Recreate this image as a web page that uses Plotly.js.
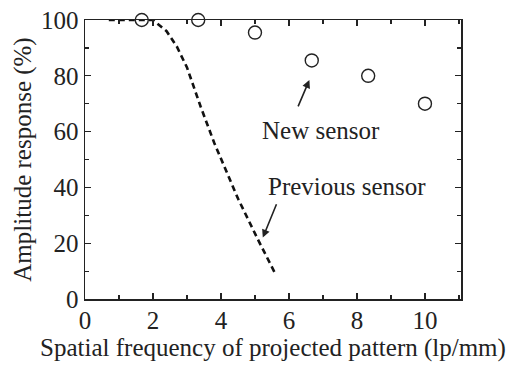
<!DOCTYPE html>
<html>
<head>
<meta charset="utf-8">
<script src="https://cdn.plot.ly/plotly-3.0.1.min.js"></script>
<style>html,body{margin:0;padding:0;background:#fff;}#chart{width:513px;height:368px;}</style>
</head>
<body>
<div id="chart"></div>
<script>
// New sensor measurements
var newX = [1.67, 3.33, 5.0, 6.67, 8.33, 10.0];
var newY = [100, 100, 95.5, 85.5, 80, 70];
// Previous sensor curve
var prevX = [0.7, 2.0, 2.4, 2.7, 3.0, 3.4, 3.8, 4.5, 5.1, 5.6];
var prevY = [100, 100, 96, 90.5, 83, 69, 56, 36, 21, 9];
var xTicks = [0, 2, 4, 6, 8, 10];
var yTicks = [0, 20, 40, 60, 80, 100];
var xTitle = "Spatial frequency of projected pattern (lp/mm)";
var yTitle = "Amplitude response (%)";
var labelNew = "New sensor";
var labelPrev = "Previous sensor";

var font = "Liberation Serif, Times New Roman, serif";

var traces = [
  {x: prevX, y: prevY, mode: "lines", type: "scatter",
   line: {color: "#111", width: 2.6, dash: "6px,4px"}, cliponaxis: false, showlegend: false},
  {x: newX, y: newY, mode: "markers", type: "scatter",
   marker: {symbol: "circle-open", size: 13, color: "#222", line: {width: 1.4, color: "#222"}},
   cliponaxis: false, showlegend: false}
];

var axisCommon = {
  showgrid: false, zeroline: false, showline: true, linecolor: "#222", linewidth: 1.5,
  mirror: "ticks", ticks: "inside", ticklen: 6, tickwidth: 1.3, tickcolor: "#222",
  tickfont: {family: font, size: 25, color: "#222"},
  minor: {ticks: "inside", ticklen: 4, tickwidth: 1.2, tickcolor: "#222", showgrid: false}
};

var layout = {
  width: 513, height: 368,
  margin: {l: 85, r: 52, t: 20, b: 69},
  paper_bgcolor: "#fff", plot_bgcolor: "#fff",
  font: {family: font, color: "#222"},
  xaxis: Object.assign({}, axisCommon, {
    range: [0, 11.06], tickvals: xTicks, ticktext: xTicks.map(String),
    minor: Object.assign({}, axisCommon.minor, {dtick: 1, tick0: 0}),
    ticklabelstandoff: -2,
    title: {text: xTitle, font: {family: font, size: 25, color: "#222"}, standoff: 2}
  }),
  yaxis: Object.assign({}, axisCommon, {
    range: [0, 100], tickvals: yTicks, ticktext: yTicks.map(String),
    minor: Object.assign({}, axisCommon.minor, {dtick: 10, tick0: 0}),
    title: {text: yTitle, font: {family: font, size: 25, color: "#222"}, standoff: 2}
  }),
  annotations: [
    {x: 6.6, y: 78.5, xref: "x", yref: "y", ax: 6.25, ay: 68.5, axref: "x", ayref: "y",
     showarrow: true, arrowhead: 2, arrowsize: 1, arrowwidth: 1.6, arrowcolor: "#222", text: ""},
    {x: 6.95, y: 60.5, xref: "x", yref: "y", text: labelNew, showarrow: false,
     font: {family: font, size: 25, color: "#222"}},
    {x: 5.23, y: 22, xref: "x", yref: "y", ax: 5.65, ay: 34.5, axref: "x", ayref: "y",
     showarrow: true, arrowhead: 2, arrowsize: 1, arrowwidth: 1.6, arrowcolor: "#222", text: ""},
    {x: 7.7, y: 40.5, xref: "x", yref: "y", text: labelPrev, showarrow: false,
     font: {family: font, size: 25, color: "#222"}}
  ]
};

Plotly.newPlot("chart", traces, layout, {displayModeBar: false, staticPlot: true});
</script>
</body>
</html>
